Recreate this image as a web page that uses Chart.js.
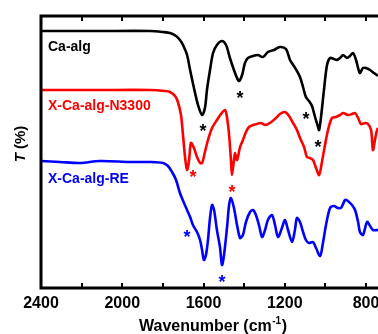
<!DOCTYPE html>
<html>
<head>
<script src="https://cdn.jsdelivr.net/npm/chart.js@4.4.0/dist/chart.umd.min.js"></script>
<style>
  body { margin: 0; background: #fff; }
</style>
</head>
<body>
<canvas id="ftir" width="378" height="334"></canvas>
<script>

// wavenumber (cm-1) / transmittance (arbitrary offset units)
const caAlgWn = [2400,2110,1863,1799,1765,1735,1716,1701,1681,1666,1647,1627,1607,1593,1583,1568,1553,1534,1509,1489,1470,1450,1435,1425,1410,1396,1381,1356,1332,1307,1283,1253,1224,1194,1174,1155,1140,1125,1110,1096,1081,1066,1051,1036,1031,1022,1007,992,977,958,943,928,913,894,879,864,849,839,830,815,800,780,761,741];
const caAlgT  = [257,257,257,256,255,252,248,243,233,218,200,183,173,180,198,218,235,243,247,243,230,218,210,207,213,225,230,232,233,231,236,238,241,239,228,222,217,211,201,191,187,182,171,161,158,170,198,223,230,229,228,230,233,230,232,235,228,220,215,220,220,218,215,212];

const n3300Wn = [2400,2110,1863,1790,1765,1740,1726,1711,1701,1691,1681,1671,1662,1647,1632,1617,1607,1593,1578,1558,1534,1514,1494,1484,1474,1465,1460,1450,1445,1435,1420,1406,1391,1376,1356,1337,1317,1297,1273,1243,1224,1199,1179,1159,1140,1125,1105,1091,1076,1061,1046,1031,1017,1002,987,968,948,928,913,889,869,854,839,825,805,790,775,766,756,746,741];
const n3300T  = [198,198,198,197,196,192,186,173,153,131,118,128,145,140,131,125,125,136,148,160,168,174,178,170,153,128,113,128,135,128,141,148,156,161,163,164,165,163,165,170,174,176,172,165,158,150,141,131,130,128,120,113,126,143,158,170,171,173,175,173,174,175,170,164,165,164,158,138,148,158,160];

const reWn = [2400,2306,2208,2110,1962,1863,1799,1775,1755,1735,1716,1696,1681,1666,1652,1632,1617,1607,1598,1588,1578,1568,1558,1548,1534,1519,1509,1499,1484,1474,1465,1450,1435,1420,1406,1391,1371,1356,1342,1327,1312,1297,1283,1263,1248,1233,1214,1199,1184,1164,1150,1140,1125,1110,1096,1081,1061,1046,1026,1012,997,977,958,938,923,903,889,869,854,839,830,815,795,780,766,741];
const reT  = [127,126,125,127,126,126,125,122,116,108,95,85,78,71,63,56,48,38,28,33,48,70,83,78,58,41,23,33,61,83,90,80,63,50,53,66,76,78,73,63,51,58,68,73,63,51,60,68,58,46,58,70,66,56,48,45,46,40,32,45,63,80,82,80,80,88,87,83,78,66,56,53,66,62,58,58];

// marked bands (asterisks)
const caAlgStarWn = [1602,1420,1096,1036];
const caAlgStarT  = [162,195,174,146];
const n3300StarWn = [1652,1460];
const n3300StarT  = [116,101];
const reStarWn = [1681,1509];
const reStarT  = [56,11];

const seriesNames = ['Ca-alg', 'X-Ca-alg-N3300', 'X-Ca-alg-RE'];
const majorTicks = [2400, 2000, 1600, 1200, 800];
const minorTicks = [2200, 1800, 1400, 1000];

const colors = ['#000000', '#ff0000', '#0000ff'];
const FONT = 'Arial, "Liberation Sans", sans-serif';

function pts(xs, ys) {
  return xs.map((x, i) => ({ x: x, y: ys[i] }));
}

const stars = [
  { wn: caAlgStarWn, t: caAlgStarT, color: colors[0] },
  { wn: n3300StarWn, t: n3300StarT, color: colors[1] },
  { wn: reStarWn, t: reStarT, color: colors[2] }
];

const decor = {
  id: 'decor',
  afterDatasetsDraw(chart) {
    const ctx = chart.ctx;
    const a = chart.chartArea;
    const xs = chart.scales.x, ys = chart.scales.y;
    ctx.save();

    // asterisks
    ctx.textAlign = 'center';
    ctx.textBaseline = 'alphabetic';
    ctx.font = 'bold 18px ' + FONT;
    stars.forEach(s => {
      ctx.fillStyle = s.color;
      s.wn.forEach((w, i) => {
        ctx.fillText('*', xs.getPixelForValue(w), ys.getPixelForValue(s.t[i]) + 11);
      });
    });

    // series labels
    ctx.textAlign = 'left';
    ctx.font = 'bold 14px ' + FONT;
    const labelBase = [51, 110, 183];
    seriesNames.forEach((name, i) => {
      ctx.fillStyle = colors[i];
      ctx.fillText(name, 48, labelBase[i]);
    });

    // frame
    ctx.strokeStyle = '#000';
    ctx.lineWidth = 3;
    ctx.beginPath();
    ctx.moveTo(a.left, a.top);
    ctx.lineTo(chart.width, a.top);
    ctx.moveTo(a.left, a.top - 1.5);
    ctx.lineTo(a.left, a.bottom + 1.5);
    ctx.moveTo(a.left, a.bottom);
    ctx.lineTo(chart.width, a.bottom);
    ctx.stroke();

    // inward ticks, top and bottom
    ctx.lineWidth = 2;
    ctx.beginPath();
    majorTicks.concat(minorTicks).forEach(v => {
      const px = Math.round(xs.getPixelForValue(v));
      ctx.moveTo(px, a.top);
      ctx.lineTo(px, a.top + 5);
      ctx.moveTo(px, a.bottom);
      ctx.lineTo(px, a.bottom - 5);
    });
    ctx.stroke();

    // tick labels
    ctx.fillStyle = '#000';
    ctx.textAlign = 'center';
    ctx.font = 'bold 16px ' + FONT;
    majorTicks.forEach(v => {
      ctx.fillText(String(v), xs.getPixelForValue(v), a.bottom + 20);
    });

    // x title with superscript
    const t1 = 'Wavenumber (cm', sup = '-1', t2 = ')';
    ctx.font = 'bold 16px ' + FONT;
    const w1 = ctx.measureText(t1).width, w3 = ctx.measureText(t2).width;
    ctx.font = 'bold 10px ' + FONT;
    const w2 = ctx.measureText(sup).width;
    let x0 = 213 - (w1 + w2 + w3 + 1) / 2;
    const base = 331;
    ctx.textAlign = 'left';
    ctx.font = 'bold 16px ' + FONT;
    ctx.fillText(t1, x0, base);
    ctx.font = 'bold 10px ' + FONT;
    ctx.fillText(sup, x0 + w1 + 0.5, base - 7);
    ctx.font = 'bold 16px ' + FONT;
    ctx.fillText(t2, x0 + w1 + w2 + 1, base);

    // y title
    ctx.translate(25, 144);
    ctx.rotate(-Math.PI / 2);
    ctx.font = 'italic bold 15px ' + FONT;
    const tw = ctx.measureText('T').width;
    ctx.font = 'bold 15px ' + FONT;
    const rw = ctx.measureText(' (%)').width;
    const sx = -(tw + rw) / 2;
    ctx.font = 'italic bold 15px ' + FONT;
    ctx.fillText('T', sx, 0);
    ctx.font = 'bold 15px ' + FONT;
    ctx.fillText(' (%)', sx + tw, 0);

    ctx.restore();
  }
};

new Chart(document.getElementById('ftir'), {
  type: 'line',
  data: {
    datasets: [
      { label: seriesNames[0], data: pts(caAlgWn, caAlgT), borderColor: colors[0] },
      { label: seriesNames[1], data: pts(n3300Wn, n3300T), borderColor: colors[1] },
      { label: seriesNames[2], data: pts(reWn, reT), borderColor: colors[2] }
    ]
  },
  options: {
    responsive: false,
    animation: false,
    devicePixelRatio: 1,
    layout: { padding: { left: 41, top: 16, right: 0, bottom: 46 } },
    elements: {
      point: { radius: 0 },
      line: { borderWidth: 2.6, tension: 0.3, fill: false }
    },
    plugins: { legend: { display: false }, tooltip: { enabled: false } },
    scales: {
      x: { type: 'linear', reverse: true, min: 741, max: 2400, display: false },
      y: { type: 'linear', min: 0, max: 272, display: false }
    }
  },
  plugins: [decor]
});
</script>
</body>
</html>
